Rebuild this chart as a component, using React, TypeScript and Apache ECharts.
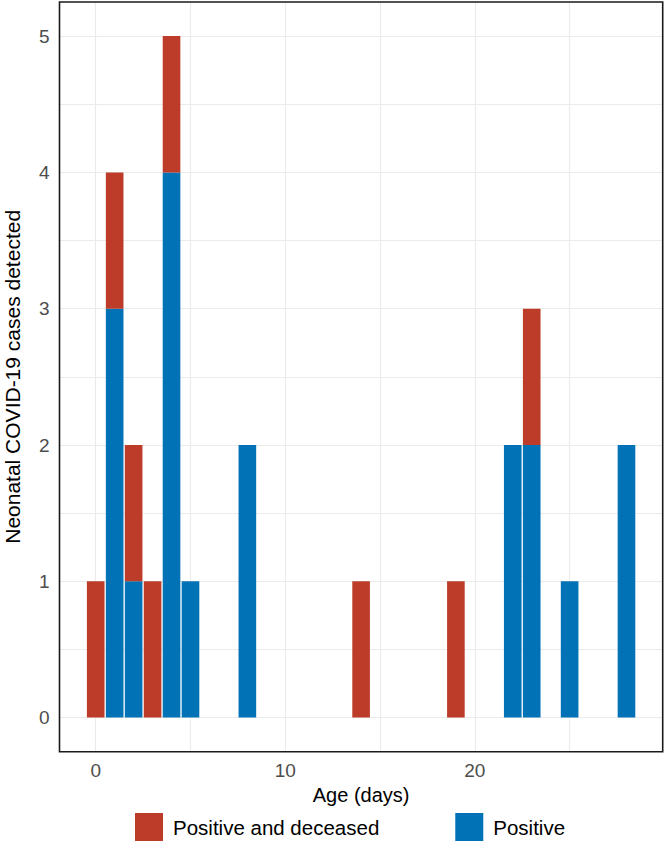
import React, { useEffect, useRef } from "react";
import * as echarts from "echarts";

const days = [0, 1, 2, 3, 4, 5, 8, 14, 19, 22, 23, 25, 28];
const positive = [0, 3, 1, 0, 4, 1, 2, 0, 0, 2, 2, 1, 2];
const deceased = [1, 1, 1, 1, 1, 0, 0, 1, 1, 0, 1, 0, 0];
const xTickLabels = [0, 10, 20];
const yTickLabels = [0, 1, 2, 3, 4, 5];
const xGrid = [0, 5, 10, 15, 20, 25];
const yGrid = [0, 0.5, 1, 1.5, 2, 2.5, 3, 3.5, 4, 4.5, 5];
const BAR_WIDTH = 0.93;

const FONT = "'Liberation Sans', Arial, Helvetica, sans-serif";
const RED = "#BC3C29";
const BLUE = "#0072B5";

function renderBar(params: any, api: any) {
  const x = api.value(0);
  const base = api.value(1);
  const top = api.value(2);
  if (top <= base) return null;
  const p1 = api.coord([x - BAR_WIDTH / 2, top]);
  const p2 = api.coord([x + BAR_WIDTH / 2, base]);
  return {
    type: "rect",
    shape: { x: p1[0], y: p1[1], width: p2[0] - p1[0], height: p2[1] - p1[1] },
    style: { fill: api.visual("color") },
  };
}

export default function App() {
  const ref = useRef<HTMLDivElement>(null);
  useEffect(() => {
    if (!ref.current) return;
    const chart = echarts.init(ref.current, null, { renderer: "svg" });
    const gridLines = [
      ...xGrid.map((v) => ({ xAxis: v })),
      ...yGrid.map((v) => ({ yAxis: v })),
    ];
    const blueData = days.map((d, i) => [d, 0, positive[i]]);
    const redData = days.map((d, i) => [d, positive[i], positive[i] + deceased[i]]);
    chart.setOption({
      animation: false,
      backgroundColor: "#ffffff",
      textStyle: { fontFamily: FONT },
      grid: {
        left: 59.5,
        right: 3.3,
        top: 2,
        bottom: 90.3,
        show: true,
        borderColor: "#1a1a1a",
        borderWidth: 1.6,
        backgroundColor: "transparent",
        outerBoundsMode: "none",
        containLabel: false,
        z: 10,
      },
      legend: {
        data: ["Positive and deceased", "Positive"],
        left: 135,
        top: 813,
        padding: 0,
        itemWidth: 28,
        itemHeight: 28,
        itemGap: 76,
        icon: "rect",
        textStyle: {
          fontFamily: FONT,
          fontSize: 20.5,
          color: "#000",
          padding: [0, 0, 0, 5],
        },
        selectedMode: false,
      },
      xAxis: {
        type: "value",
        min: -1.91,
        max: 29.91,
        splitNumber: 3,
        name: "Age (days)",
        nameLocation: "middle",
        nameGap: 26,
        nameTextStyle: { fontFamily: FONT, fontSize: 20, color: "#000" },
        axisLine: { show: false },
        axisTick: { show: false },
        splitLine: { show: false },
        axisLabel: {
          margin: 9,
          fontFamily: FONT,
          fontSize: 19,
          color: "#4d4d4d",
          formatter: (v: number) =>
            xTickLabels.some((t) => Math.abs(t - v) < 1e-6) ? String(Math.round(v)) : "",
        },
      },
      yAxis: {
        type: "value",
        min: -0.25,
        max: 5.25,
        name: "Neonatal COVID-19 cases detected",
        nameLocation: "middle",
        nameGap: 37,
        nameTextStyle: { fontFamily: FONT, fontSize: 21, color: "#000" },
        axisLine: { show: false },
        axisTick: { show: false },
        splitLine: { show: false },
        axisLabel: {
          margin: 10,
          fontFamily: FONT,
          fontSize: 19,
          color: "#4d4d4d",
          formatter: (v: number) =>
            yTickLabels.some((t) => Math.abs(t - v) < 1e-6) ? String(Math.round(v)) : "",
        },
      },
      series: [
        {
          type: "line",
          name: "grid",
          data: [],
          silent: true,
          z: 1,
          markLine: {
            silent: true,
            z: 1,
            symbol: "none",
            label: { show: false },
            lineStyle: { color: "#ebebeb", width: 1.1, type: "solid" },
            data: gridLines,
          },
        },
        {
          type: "custom",
          name: "Positive",
          z: 3,
          itemStyle: { color: BLUE },
          encode: { x: 0, y: 2 },
          renderItem: renderBar,
          data: blueData,
        },
        {
          type: "custom",
          name: "Positive and deceased",
          z: 3,
          itemStyle: { color: RED },
          encode: { x: 0, y: 2 },
          renderItem: renderBar,
          data: redData,
        },
      ],
    });
    return () => chart.dispose();
  }, []);
  return (
    <div
      ref={ref}
      style={{ position: "absolute", left: 0, top: 0, width: 666, height: 842 }}
    />
  );
}
